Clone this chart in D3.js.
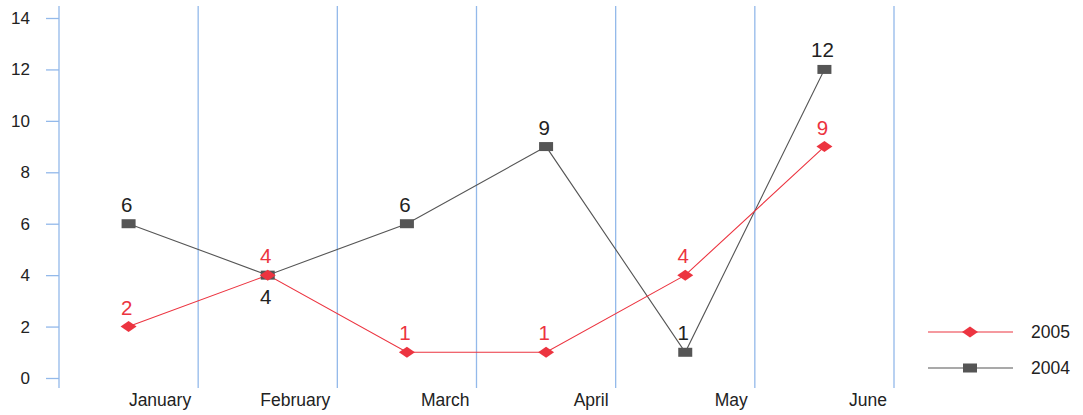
<!DOCTYPE html>
<html>
<head>
<meta charset="utf-8">
<script src="https://cdn.jsdelivr.net/npm/d3@7"></script>
<style>
  body { margin: 0; background: #fff; }
  text { font-family: "Liberation Sans", Arial, sans-serif; }
</style>
</head>
<body>
<div id="container"></div>
<script>
/* CONSTANTS AND GLOBALS */
const width = 1083, height = 415;
const margin = { top: 18, bottom: 37, left: 59, right: 189 };
const colors = { s2005: '#ec3440', s2004: '#555555', grid: '#93b9ea' };

/* DATA */
const months = ["January", "February", "March", "April", "May", "June"];
const series2005 = [2, 4, 1, 1, 4, 9];
const series2004 = [6, 4, 6, 9, 1, 12];
const yTicks = [0, 2, 4, 6, 8, 10, 12, 14];
// label above (-1) or below (+1) the point
const labelSide2004 = [-1, 1, -1, -1, -1, -1];

/* SCALES */
const xBand = d3.scaleBand()
  .domain(months)
  .range([margin.left, width - margin.right])
  .paddingInner(0).paddingOuter(0);

const yScale = d3.scaleLinear()
  .domain([0, 14])
  .range([height - margin.bottom, margin.top]);

const cx = (i) => xBand(months[i]) + xBand.bandwidth() / 2;

/* SVG */
const svg = d3.select("#container").append("svg")
  .attr("width", width).attr("height", height);

// vertical grid lines at band boundaries
const bounds = months.map(m => xBand(m)).concat([xBand.range()[1]]);
svg.append("g").selectAll("line").data(bounds).join("line")
  .attr("x1", d => d).attr("x2", d => d)
  .attr("y1", 6).attr("y2", 388)
  .attr("stroke", colors.grid).attr("stroke-width", 1.3);

// y axis
const yAxis = d3.axisLeft(yScale).tickValues(yTicks).tickSize(13).tickPadding(16);
const yg = svg.append("g")
  .attr("transform", `translate(${margin.left},0)`)
  .call(yAxis)
  .attr("font-size", 17)
  .attr("font-family", '"Liberation Sans", Arial, sans-serif');
yg.select(".domain").remove();
yg.selectAll(".tick line").attr("stroke", colors.grid).attr("stroke-width", 1.3);
yg.selectAll(".tick text").attr("fill", "#222");

// month labels, end anchored near the right boundary of each band
svg.append("g").selectAll("text").data(months).join("text")
  .attr("x", d => xBand(d) + xBand.bandwidth() - 7)
  .attr("y", 406)
  .attr("text-anchor", "end")
  .attr("fill", "#222")
  .style("font-size", "17.5px")
  .text(d => d);

const line = d3.line().x((d, i) => cx(i)).y(d => yScale(d));

// 2004 series
svg.append("path").datum(series2004)
  .attr("d", line).attr("fill", "none")
  .attr("stroke", colors.s2004).attr("stroke-width", 1.1);

// 2005 series
svg.append("path").datum(series2005)
  .attr("d", line).attr("fill", "none")
  .attr("stroke", colors.s2005).attr("stroke-width", 1.1);

svg.append("g").selectAll("rect").data(series2004).join("rect")
  .attr("x", (d, i) => cx(i) - 7).attr("y", d => yScale(d) - 4.5)
  .attr("width", 14).attr("height", 9)
  .attr("fill", colors.s2004);

const diamond = (x, y) => `M${x - 8},${y}L${x},${y - 5.5}L${x + 8},${y}L${x},${y + 5.5}Z`;
svg.append("g").selectAll("path").data(series2005).join("path")
  .attr("d", (d, i) => diamond(cx(i), yScale(d)))
  .attr("fill", colors.s2005);

// value labels
svg.append("g").selectAll("text").data(series2004).join("text")
  .attr("x", (d, i) => cx(i) - 2)
  .attr("y", (d, i) => labelSide2004[i] < 0 ? yScale(d) - 12 : yScale(d) + 29)
  .attr("text-anchor", "middle")
  .attr("fill", "#222")
  .style("font-size", "20.5px")
  .text(d => d);

svg.append("g").selectAll("text").data(series2005).join("text")
  .attr("x", (d, i) => cx(i) - 2)
  .attr("y", d => yScale(d) - 12)
  .attr("text-anchor", "middle")
  .attr("fill", colors.s2005)
  .style("font-size", "20.5px")
  .text(d => d);

// legend
const legend = [
  { name: "2005", color: colors.s2005, shape: "diamond" },
  { name: "2004", color: colors.s2004, shape: "square" }
];
const lg = svg.append("g").selectAll("g").data(legend).join("g")
  .attr("transform", (d, i) => `translate(928,${332 + i * 36})`);
lg.append("line").attr("x1", 0).attr("x2", 85).attr("y1", 0).attr("y2", 0)
  .attr("stroke", d => d.color).attr("stroke-width", 1.1);
lg.filter(d => d.shape === "diamond").append("path")
  .attr("d", diamond(42, 0)).attr("fill", d => d.color);
lg.filter(d => d.shape === "square").append("rect")
  .attr("x", 35).attr("y", -4.5).attr("width", 14).attr("height", 9)
  .attr("fill", d => d.color);
lg.append("text").attr("x", 103).attr("y", 6)
  .attr("fill", "#222").style("font-size", "17.5px")
  .text(d => d.name);
</script>
</body>
</html>
